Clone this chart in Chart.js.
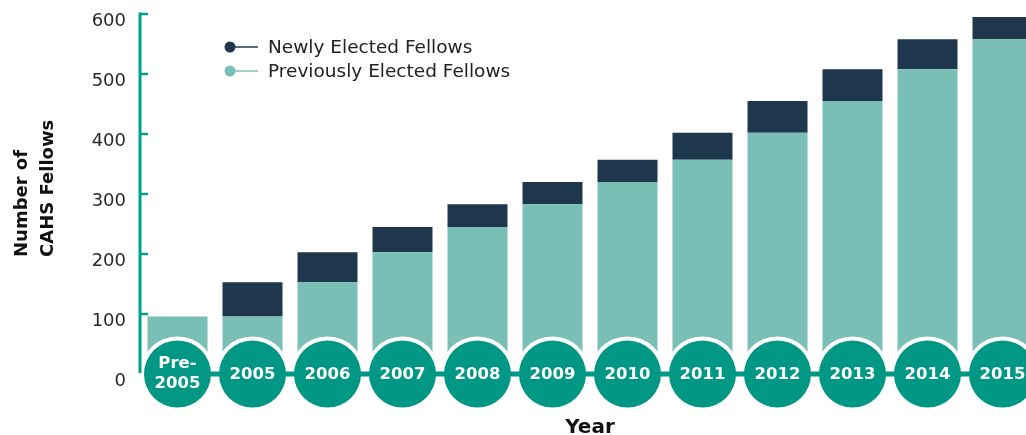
<!DOCTYPE html>
<html>
<head>
<meta charset="utf-8">
<script src="https://cdn.jsdelivr.net/npm/chart.js@4/dist/chart.umd.min.js"></script>
<style>
  html, body { margin: 0; padding: 0; overflow: hidden; background: #ffffff; }
  #wrap { position: relative; width: 1040px; height: 435px; }
</style>
</head>
<body>
<div id="wrap"><canvas id="c"></canvas></div>
<script>
// ---- data ----
const categories = [["Pre-", "2005"], "2005", "2006", "2007", "2008", "2009", "2010", "2011", "2012", "2013", "2014", "2015"];
const previouslyElected = [96, 96, 153, 203, 245, 283, 320, 357, 402, 455, 508, 558];
const newlyElected      = [0, 57, 50, 42, 38, 37, 37, 45, 53, 53, 50, 37];
const yTicks = [0, 100, 200, 300, 400, 500, 600];
const seriesNames = ["Previously Elected Fellows", "Newly Elected Fellows"];
const yTitleLines = ["Number of", "CAHS Fellows"];
const xTitle = "Year";

// ---- styles ----
const DARK = "#1f374c";
const LIGHT = "#7abfb6";
const CIRCLE = "#009784";
const AXIS = "#00a08a";
const FONT = "'DejaVu Sans', sans-serif";

const timelinePlugin = {
  id: "timeline",
  afterDatasetsDraw(chart) {
    const ctx = chart.ctx;
    const xs = chart.scales.x, ys = chart.scales.y;
    const y0 = ys.getPixelForValue(0);
    const xsPos = categories.map((c, i) => xs.getPixelForValue(i));
    ctx.save();
    // white rings
    ctx.fillStyle = "#ffffff";
    xsPos.forEach(x => { ctx.beginPath(); ctx.arc(x, y0, 37.5, 0, Math.PI * 2); ctx.fill(); });
    // connecting line
    ctx.strokeStyle = CIRCLE;
    ctx.lineWidth = 5;
    ctx.beginPath();
    ctx.moveTo(xsPos[0], y0);
    ctx.lineTo(xsPos[xsPos.length - 1], y0);
    ctx.stroke();
    // circles
    ctx.fillStyle = CIRCLE;
    xsPos.forEach(x => { ctx.beginPath(); ctx.arc(x, y0, 33.5, 0, Math.PI * 2); ctx.fill(); });
    // labels
    ctx.fillStyle = "#ffffff";
    ctx.font = "bold 16.5px " + FONT;
    ctx.textAlign = "center";
    ctx.textBaseline = "middle";
    categories.forEach((c, i) => {
      const x = xsPos[i];
      if (Array.isArray(c)) {
        ctx.fillText(c[0], x, y0 - 10);
        ctx.fillText(c[1], x, y0 + 10);
      } else {
        ctx.fillText(c, x, y0 + 1);
      }
    });
    ctx.restore();
  },
  afterDraw(chart) {
    const ctx = chart.ctx;
    const ys = chart.scales.y;
    const left = chart.chartArea.left;
    ctx.save();
    // y axis line
    ctx.strokeStyle = AXIS;
    ctx.lineWidth = 3;
    ctx.beginPath();
    ctx.moveTo(left, ys.getPixelForValue(600) - 1.5);
    ctx.lineTo(left, ys.getPixelForValue(0) - 1);
    ctx.stroke();
    // inner tick marks
    ctx.lineWidth = 2.5;
    yTicks.forEach(v => {
      if (v === 0) return;
      const y = ys.getPixelForValue(v);
      ctx.beginPath();
      ctx.moveTo(left, y);
      ctx.lineTo(left + 8, y);
      ctx.stroke();
    });
    // y title
    ctx.fillStyle = "#111111";
    ctx.font = "bold 18px " + FONT;
    ctx.textAlign = "left";
    ctx.textBaseline = "middle";
    ctx.translate(0, 257);
    ctx.rotate(-Math.PI / 2);
    ctx.fillText(yTitleLines[0], 0, 22.5);
    ctx.fillText(yTitleLines[1], 0, 48);
    ctx.restore();

    // legend
    ctx.save();
    const items = [
      { label: chart.data.datasets[1].label, dot: DARK, line: "#566b7b", y: 47 },
      { label: chart.data.datasets[0].label, dot: LIGHT, line: "#9dd1ca", y: 71 }
    ];
    items.forEach(it => {
      ctx.strokeStyle = it.line;
      ctx.lineWidth = 2;
      ctx.beginPath();
      ctx.moveTo(230, it.y);
      ctx.lineTo(258, it.y);
      ctx.stroke();
      ctx.fillStyle = it.dot;
      ctx.beginPath();
      ctx.arc(230, it.y, 5.5, 0, Math.PI * 2);
      ctx.fill();
      ctx.fillStyle = "#222222";
      ctx.font = "18.5px " + FONT;
      ctx.textAlign = "left";
      ctx.textBaseline = "middle";
      ctx.fillText(it.label, 268, it.y + 1);
    });
    ctx.restore();
  }
};

new Chart(document.getElementById("c"), {
  type: "bar",
  data: {
    labels: categories,
    datasets: [
      { label: seriesNames[0], data: previouslyElected, backgroundColor: LIGHT, borderWidth: 0,
        barPercentage: 0.8, categoryPercentage: 1.0 },
      { label: seriesNames[1], data: newlyElected, backgroundColor: DARK, borderWidth: 0,
        barPercentage: 0.8, categoryPercentage: 1.0 }
    ]
  },
  options: {
    responsive: true,
    maintainAspectRatio: false,
    devicePixelRatio: 1,
    animation: false,
    layout: { padding: { top: 14, left: 0, right: 0, bottom: 0 } },
    plugins: { legend: { display: false }, tooltip: { enabled: false } },
    scales: {
      x: {
        stacked: true,
        grid: { display: false, drawTicks: false },
        border: { display: false },
        ticks: { display: false },
        title: { display: true, text: xTitle, color: "#111111",
                 font: { family: FONT, size: 20, weight: "bold", lineHeight: "14px" },
                 padding: { top: 0, bottom: 0 } },
        afterFit(s) { s.height = 61; s.paddingLeft = 0; s.paddingRight = 0; }
      },
      y: {
        stacked: true,
        min: 0, max: 600,
        afterBuildTicks(s) { s.ticks = yTicks.map(v => ({ value: v })); },
        grid: { display: false, drawTicks: false },
        border: { display: false },
        ticks: { padding: 14, labelOffset: 7, color: "#2a2a2a",
                 font: { family: FONT, size: 18 } },
        afterFit(s) { s.width = 140; s.paddingTop = 0; s.paddingBottom = 0; }
      }
    }
  },
  plugins: [timelinePlugin]
});
</script>
</body>
</html>
